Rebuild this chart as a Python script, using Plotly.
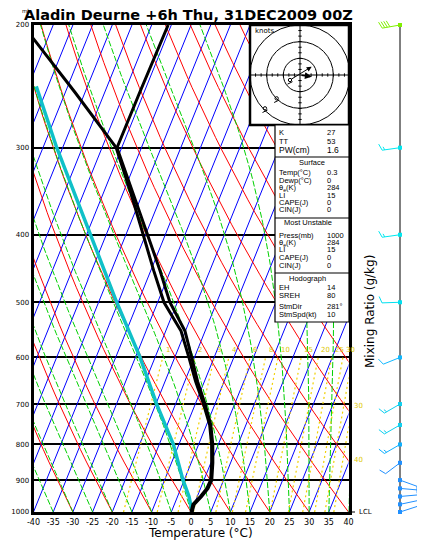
import numpy as np
import plotly.graph_objects as go

W, H = 425, 550
OFF = 8   # the page draws the figure 8px in from the window corner

# ---- sounding (hPa, degC) ----
pres = [1000, 975, 950, 925, 900, 850, 800, 750, 700, 650, 600, 550, 500, 450, 400, 350, 300, 250, 200]
temp = [0.3, 0.0, 1.1, 1.9, 2.0, 0.5, -1.4, -3.9, -7.5, -11.7, -15.7, -20.1, -26.9, -32.7, -39.5, -47.2, -56.2, -56.1, -55.8]
dewp = [0.0, -0.3, 0.8, 1.6, 1.7, 0.2, -1.7, -4.2, -7.9, -12.2, -16.4, -21.1, -28.4, -34.3, -40.6, -47.8, -56.4, -72.5, -92.7]

# lifted parcel
parcel_p = [1000, 950, 900, 850, 800, 700, 600, 500, 400, 300, 245]
parcel_t = [0.3, -2.1, -5.3, -8.3, -11.4, -19.8, -28.8, -40.4, -53.9, -71.5, -83.0]

# winds
wind_p = [200, 300, 400, 500, 600, 700, 750, 800, 850, 900, 925, 950, 975, 1000]
wind_dir = [260, 262, 262, 268, 248, 240, 240, 240, 233, 110, 95, 85, 78, 72]
wind_kt = [40, 15, 15, 10, 10, 15, 15, 15, 10, 10, 10, 10, 10, 10]
wind_col = ['#80f000', '#00e8f0', '#00e8f0', '#00e0f0', '#10b8ff', '#10d0f0', '#10d0f0',
            '#10b0ff', '#2090ff', '#2090ff', '#2090ff', '#2090ff', '#2090ff', '#2090ff']

# axes
t_ticks = [-40, -35, -30, -25, -20, -15, -10, -5, 0, 5, 10, 15, 20, 25, 30, 35, 40]
t_labels = ['-40', '-35', '-30', '-25', '-20', '-15', '-10', '-5', '0', '5', '10', '15', '20', '25', '30', '35', '40']
p_ticks = [1000, 900, 800, 700, 600, 500, 400, 300, 200]
p_labels = ['1000', '900', '800', '700', '600', '500', '400', '300', '200']

# background lines
isotherms = list(range(-90, 45, 5))
dry_theta = list(range(-40, 180, 10))      # potential temperature (degC at 1000 hPa)
moist_tw = list(range(-45, 45, 5))         # wet-bulb potential temperature (degC)
mix_ratio = [1, 2, 3, 4, 6, 8, 10, 15, 20, 25, 30, 35, 40]
mix_labels = ['1', '2', '3', '4', '6', '8', '10', '15', '20', '25', '30']

# hodograph (knots)
hodo_rings = [10, 20, 30]
shear_u, shear_v = [-6, 7], [-3, 5]
storm_u, storm_v = 7, -1
mark_u = [-6, -14, -21]
mark_v = [-3, -14, -20]

# table
idx_names = ['K', 'TT', 'PW(cm)']
idx_vals = ['27', '53', '1.6']
sfc_names = ['Temp(°C)', 'Dewp(°C)', 'θ<sub>e</sub>(K)', 'LI', 'CAPE(J)', 'CIN(J)']
sfc_vals = ['0.3', '0', '284', '15', '0', '0']
mu_names = ['Press(mb)', 'θ<sub>e</sub>(K)', 'LI', 'CAPE(J)', 'CIN(J)']
mu_vals = ['1000', '284', '15', '0', '0']
hod_names = ['EH', 'SREH', 'StmDir', 'StmSpd(kt)']
hod_vals = ['14', '80', '281°', '10']

# ---------------- geometry ----------------
SKEW = 50.0        # degC shift of an isotherm between 1000 and 200 hPa
LOGTOP = np.log10(200)
PX_LOG = (3 - LOGTOP) / 487.0     # log10(p) per pixel


def X(px):
    return (px - OFF) / W


def Y(py):
    return 1 - (py - OFF) / H


XDOM = [X(33.5), X(348.5)]
YDOM = [Y(512), Y(25)]


def skx(t, p):
    return np.asarray(t, float) + SKEW * np.log(1000.0 / np.asarray(p, float)) / np.log(5.0)


def joined(lines):
    xs, ys = [], []
    for lx, ly in lines:
        xs += list(lx) + [None]
        ys += list(ly) + [None]
    return xs, ys


Rd, Cp, Lv, EPS = 287.04, 1005.7, 2.501e6, 0.622


def es_hpa(tc):
    return 6.112 * np.exp(17.67 * tc / (tc + 243.5))


def dtdp(tk, p):
    e = es_hpa(tk - 273.15)
    rs = EPS * e / (p - e)
    return (Rd * tk + Lv * rs) / (Cp + Lv * Lv * rs * EPS / (Rd * tk * tk)) / p


def moist(t0, plev):
    t = np.asarray(t0, float) + 273.15
    out = [t.copy()]
    for p0, p1 in zip(plev[:-1], plev[1:]):
        h = p1 - p0
        k1 = dtdp(t, p0)
        k2 = dtdp(t + 0.5 * h * k1, p0 + 0.5 * h)
        k3 = dtdp(t + 0.5 * h * k2, p0 + 0.5 * h)
        k4 = dtdp(t + h * k3, p1)
        t = t + h * (k1 + 2 * k2 + 2 * k3 + k4) / 6
        out.append(t.copy())
    return np.array(out) - 273.15


def t_mix(w, p):
    e = (w / 1000.0) * p / (EPS + w / 1000.0)
    a = np.log(e / 6.112)
    return 243.5 * a / (17.67 - a)


fig = go.Figure()

# isotherms
pl = np.array([1000.0, 200.0])
xs, ys = joined([(skx([t, t], pl), pl) for t in isotherms])
fig.add_trace(go.Scatter(x=xs, y=ys, mode='lines', line=dict(color='#0000ff', width=1), hoverinfo='skip'))

# dry adiabats
pd_ = np.geomspace(1000, 200, 40)
xs, ys = joined([(skx((th + 273.15) * (pd_ / 1000) ** 0.2857 - 273.15, pd_), pd_) for th in dry_theta])
fig.add_trace(go.Scatter(x=xs, y=ys, mode='lines', line=dict(color='#ff0000', width=1), hoverinfo='skip'))

# moist adiabats
pm = np.geomspace(1000, 200, 80)
tm = moist(moist_tw, pm)
xs, ys = joined([(skx(tm[:, i], pm), pm) for i in range(len(moist_tw))])
fig.add_trace(go.Scatter(x=xs, y=ys, mode='lines', line=dict(color='#00d000', width=1, dash='6px,2px'),
                         hoverinfo='skip'))

# mixing ratio lines
pw = np.geomspace(1000, 600, 20)
xs, ys = joined([(skx(t_mix(w, pw), pw), pw) for w in mix_ratio])
fig.add_trace(go.Scatter(x=xs, y=ys, mode='lines', line=dict(color='#f0d000', width=1.2, dash='2px,3px'),
                         hoverinfo='skip'))

# parcel, dewpoint, temperature
fig.add_trace(go.Scatter(x=skx(parcel_t, parcel_p), y=parcel_p, mode='lines',
                         line=dict(color='#10c0c8', width=3.5), name='Parcel'))
fig.add_trace(go.Scatter(x=skx(dewp, pres), y=pres, mode='lines',
                         line=dict(color='black', width=3), name='Dewpoint'))
fig.add_trace(go.Scatter(x=skx(temp, pres), y=pres, mode='lines',
                         line=dict(color='black', width=3), name='Temperature'))

# ---------------- wind barbs (x2 in pixels, y2 log pressure) ----------------
fig.add_trace(go.Scatter(x=[400, 400], y=[200, 1000], xaxis='x2', yaxis='y2', mode='lines',
                         line=dict(color='black', width=1), hoverinfo='skip'))


def barb(p, d, s, x0=400, shaft=18.0, full=7.0, gap=2.6):
    r = np.radians(d)
    ux, uy = np.sin(r), np.cos(r)
    nx, ny = uy, -ux
    tl = np.radians(22)
    bx, by = nx * np.cos(tl) + ux * np.sin(tl), ny * np.cos(tl) + uy * np.sin(tl)
    segs = [[(0, 0), (shaft * ux, shaft * uy)]]
    s5 = int(round(s / 5.0)) * 5
    n50, rem = divmod(s5, 50)
    n10, rem = divmod(rem, 10)
    n5 = rem // 5
    pos = shaft
    for _ in range(n50):
        segs.append([(pos * ux, pos * uy), (pos * ux + full * bx, pos * uy + full * by),
                     ((pos - 4) * ux, (pos - 4) * uy)])
        pos -= 5
    for _ in range(n10):
        segs.append([(pos * ux, pos * uy), (pos * ux + full * bx, pos * uy + full * by)])
        pos -= gap
    if n5:
        if n50 == 0 and n10 == 0:
            pos -= gap
        segs.append([(pos * ux, pos * uy), (pos * ux + 0.5 * full * bx, pos * uy + 0.5 * full * by)])
    xs, ys = [], []
    for seg in segs:
        for dx, dy in seg:
            xs.append(x0 + dx)
            ys.append(p * 10 ** (-dy * PX_LOG))
        xs.append(None)
        ys.append(None)
    return xs, ys


for p, d, s, c in zip(wind_p, wind_dir, wind_kt, wind_col):
    bx_, by_ = barb(p, d, s)
    fig.add_trace(go.Scatter(x=bx_, y=by_, xaxis='x2', yaxis='y2', mode='lines',
                             line=dict(color=c, width=1), hoverinfo='skip'))
fig.add_trace(go.Scatter(x=[400] * len(wind_p), y=wind_p, xaxis='x2', yaxis='y2', mode='markers',
                         marker=dict(symbol='square', size=4, color=wind_col), hoverinfo='skip'))

# ---------------- shapes: hodograph + table ----------------
shapes = []


def rect(x0, y0, x1, y1, lw, fill=None):
    d = dict(type='rect', xref='paper', yref='paper', x0=X(x0), x1=X(x1), y0=Y(y1), y1=Y(y0),
             line=dict(color='black', width=lw), layer='above')
    if fill:
        d['fillcolor'] = fill
    return d


def hline(x0, x1, y, lw=1.2):
    return dict(type='line', xref='paper', yref='paper', x0=X(x0), x1=X(x1), y0=Y(y), y1=Y(y),
                line=dict(color='black', width=lw), layer='above')


shapes.append(rect(250, 25, 349, 125, 0, 'white'))
for r in hodo_rings:
    shapes.append(dict(type='circle', xref='x3', yref='y3', x0=-r, x1=r, y0=-r, y1=r,
                       line=dict(color='black', width=1), layer='above'))
shapes.append(dict(type='line', xref='x3', yref='y3', x0=-30, x1=30, y0=0, y1=0,
                   line=dict(color='black', width=1), layer='above'))
shapes.append(dict(type='line', xref='x3', yref='y3', x0=0, x1=0, y0=-30, y1=30,
                   line=dict(color='black', width=1), layer='above'))
for k in range(-9, 10):
    if k == 0:
        continue
    v = k * 10 / 3
    shapes.append(dict(type='line', xref='x3', yref='y3', x0=v, x1=v, y0=-1, y1=1,
                       line=dict(color='black', width=1), layer='above'))
    shapes.append(dict(type='line', xref='x3', yref='y3', x0=-1, x1=1, y0=v, y1=v,
                       line=dict(color='black', width=1), layer='above'))
for mu, mv in zip(mark_u, mark_v):
    shapes.append(dict(type='circle', xref='x3', yref='y3', x0=mu - 1, x1=mu + 1, y0=mv - 1, y1=mv + 1,
                       line=dict(color='black', width=1), layer='above'))
    shapes.append(dict(type='line', xref='x3', yref='y3', x0=mu - 1.5, x1=mu + 1.5, y0=mv - 2.5, y1=mv - 1,
                       line=dict(color='black', width=1), layer='above'))
shapes.append(rect(250, 25, 349, 125, 2.5))

# table
shapes.append(rect(275, 125, 349, 322, 1.2, 'white'))
for yy in [157, 218, 273]:
    shapes.append(hline(275, 349, yy))
# LCL marker
shapes.append(hline(348.5, 355, 512, 1))

# ---------------- annotations ----------------
ann = []
TF = 'Liberation Sans'


def txt(x, y, s, size=7.5, xa='left', color='black', family=TF, angle=0):
    ann.append(dict(x=X(x), y=Y(y), xref='paper', yref='paper', text=s, showarrow=False,
                    xanchor=xa, yanchor='middle', textangle=angle,
                    font=dict(size=size, color=color, family=family)))


txt(20, 11, 'mb', size=5.5, family='DejaVu Sans')
txt(22, 15, '<b>Aladin Deurne +6h Thu, 31DEC2009 00Z</b>', size=14.5, family='DejaVu Sans')
txt(200, 533, 'Temperature (°C)', size=12, xa='center', family='DejaVu Sans')
txt(370, 312, 'Mixing Ratio (g/kg)', size=12, xa='center', family='DejaVu Sans', angle=-90)
txt(357, 511.5, 'LCL', size=7, family='DejaVu Sans')
txt(253, 31, 'knots', size=7, family='DejaVu Sans')

for nm, vl, yy in zip(idx_names, idx_vals, [132, 141.5, 150.5]):
    sz = 8.5 if nm == 'PW(cm)' else 7.5
    txt(277, yy, nm, size=sz)
    txt(325, yy, vl, size=sz)
txt(312, 163, 'Surface', size=7.5, xa='center')
for nm, vl, yy in zip(sfc_names, sfc_vals, [172.5, 180, 187.5, 195, 202.5, 210]):
    txt(277, yy, nm)
    txt(325, yy, vl)
txt(308, 223, 'Most Unstable', size=7.5, xa='center')
for nm, vl, yy in zip(mu_names, mu_vals, [235, 242.5, 250, 257.5, 265]):
    txt(277, yy, nm)
    txt(325, yy, vl)
txt(307, 278.5, 'Hodograph', size=7.5, xa='center')
for nm, vl, yy in zip(hod_names, hod_vals, [287.5, 295, 307, 314.5]):
    txt(277, yy, nm)
    txt(325, yy, vl)

# mixing-ratio labels along 600 hPa
for w, lab in zip(mix_ratio, mix_labels):
    ann.append(dict(x=float(skx(t_mix(w, 600.0), 600.0)), y=np.log10(600), xref='x', yref='y',
                    text=lab, showarrow=False, xanchor='left', yanchor='bottom', xshift=1, yshift=1,
                    font=dict(size=7, color='#e0c800', family='DejaVu Sans')))
txt(352, 406.5, '30', size=7, color='#e0c800', family='DejaVu Sans')
txt(352, 460, '40', size=7, color='#e0c800', family='DejaVu Sans')

# hodograph arrows
ann.append(dict(x=shear_u[1], y=shear_v[1], ax=shear_u[0], ay=shear_v[0], xref='x3', yref='y3',
                axref='x3', ayref='y3', text='', showarrow=True, arrowhead=2, arrowsize=1,
                arrowwidth=1, arrowcolor='black'))
ann.append(dict(x=storm_u, y=storm_v, ax=0, ay=0, xref='x3', yref='y3', axref='x3', ayref='y3',
                text='', showarrow=True, arrowhead=2, arrowsize=0.9, arrowwidth=1.5, arrowcolor='black'))

# y2 spans the full paper height with the same log-pressure scale as y
slope = (3 - LOGTOP) / (YDOM[1] - YDOM[0])
y2_range = [3 + YDOM[0] * slope, LOGTOP - (1 - YDOM[1]) * slope]

fig.update_layout(
    width=W, height=H,
    margin=dict(l=0, r=0, t=0, b=0, pad=0),
    paper_bgcolor='white', plot_bgcolor='white',
    showlegend=False,
    xaxis=dict(domain=XDOM, range=[-40, 40], tickmode='array', tickvals=t_ticks, ticktext=t_labels,
               showgrid=False, zeroline=False, showline=True, linecolor='black', linewidth=3,
               mirror=True, ticks='', automargin=False,
               tickfont=dict(size=8, color='black', family='DejaVu Sans')),
    yaxis=dict(domain=YDOM, type='log', range=[3, LOGTOP], tickmode='array', tickvals=p_ticks,
               ticktext=p_labels, showgrid=True, gridcolor='black', gridwidth=1.5, zeroline=False,
               showline=True, linecolor='black', linewidth=3, mirror=True, ticks='', automargin=False,
               tickfont=dict(size=7, color='black', family='DejaVu Sans')),
    xaxis2=dict(domain=[X(355), 1], range=[355, W + OFF], anchor='y2', visible=False),
    yaxis2=dict(domain=[0, 1], type='log', range=y2_range, anchor='x2', visible=False),
    xaxis3=dict(domain=[X(250), X(350)], range=[-30, 30], anchor='y3', visible=False),
    yaxis3=dict(domain=[Y(125), Y(25)], range=[-30, 30], anchor='x3', visible=False),
    shapes=shapes,
    annotations=ann,
)

fig.write_html("out.html")
